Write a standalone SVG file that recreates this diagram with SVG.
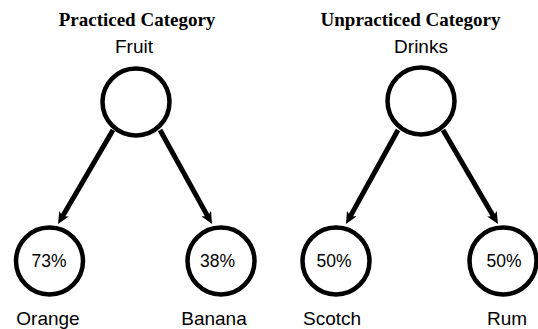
<svg xmlns="http://www.w3.org/2000/svg" width="538" height="329" viewBox="0 0 538 329">
<style>
.node circle{fill:#fff;stroke:#000;stroke-width:4.5}
.title{font-family:"Liberation Serif","Times New Roman",serif;font-weight:bold;font-size:19px;text-anchor:middle;fill:#000}
.lbl{font-family:"Liberation Sans",Arial,sans-serif;font-size:19px;text-anchor:middle;fill:#000}
.pct{font-family:"Liberation Sans",Arial,sans-serif;font-size:17.5px;text-anchor:middle;fill:#000}
.edge{stroke:#000;stroke-width:5;fill:none;marker-end:url(#ah)}
</style>
<defs>
<marker id="ah" markerUnits="userSpaceOnUse" markerWidth="12" markerHeight="11" viewBox="0 0 12 11" refX="3.5" refY="5.5" orient="auto">
<path d="M0,0 L12,5.5 L0,11 L3,5.5 z" fill="#000"/>
</marker>
</defs>
<rect width="538" height="329" fill="#fff"/>
<text class="title" x="137" y="26">Practiced Category</text>
<text class="title" x="410.5" y="26">Unpracticed Category</text>
<g id="connectors">
<line class="edge" x1="113" y1="130" x2="62.3" y2="216.7"/>
<line class="edge" x1="160" y1="130" x2="207.9" y2="216.6"/>
<line class="edge" x1="398" y1="130" x2="350.1" y2="216.6"/>
<line class="edge" x1="443" y1="130" x2="493.7" y2="216.7"/>
</g>
<g id="fruit" class="node"><circle cx="136" cy="102" r="33.5"/><text class="lbl" x="134" y="53">Fruit</text></g>
<g id="drinks" class="node"><circle cx="421" cy="101" r="33.5"/><text class="lbl" x="421" y="52.5">Drinks</text></g>
<g id="orange" class="node"><circle cx="49.5" cy="261" r="33.5"/><text class="pct" x="49" y="267">73%</text><text class="lbl" x="48" y="325">Orange</text></g>
<g id="banana" class="node"><circle cx="221" cy="261" r="33.5"/><text class="pct" x="217.5" y="267">38%</text><text class="lbl" x="214" y="325">Banana</text></g>
<g id="scotch" class="node"><circle cx="336" cy="261" r="33.5"/><text class="pct" x="334" y="267">50%</text><text class="lbl" x="332" y="325">Scotch</text></g>
<g id="rum" class="node"><circle cx="503" cy="261" r="33.5"/><text class="pct" x="504" y="267">50%</text><text class="lbl" x="507" y="325">Rum</text></g>
</svg>
